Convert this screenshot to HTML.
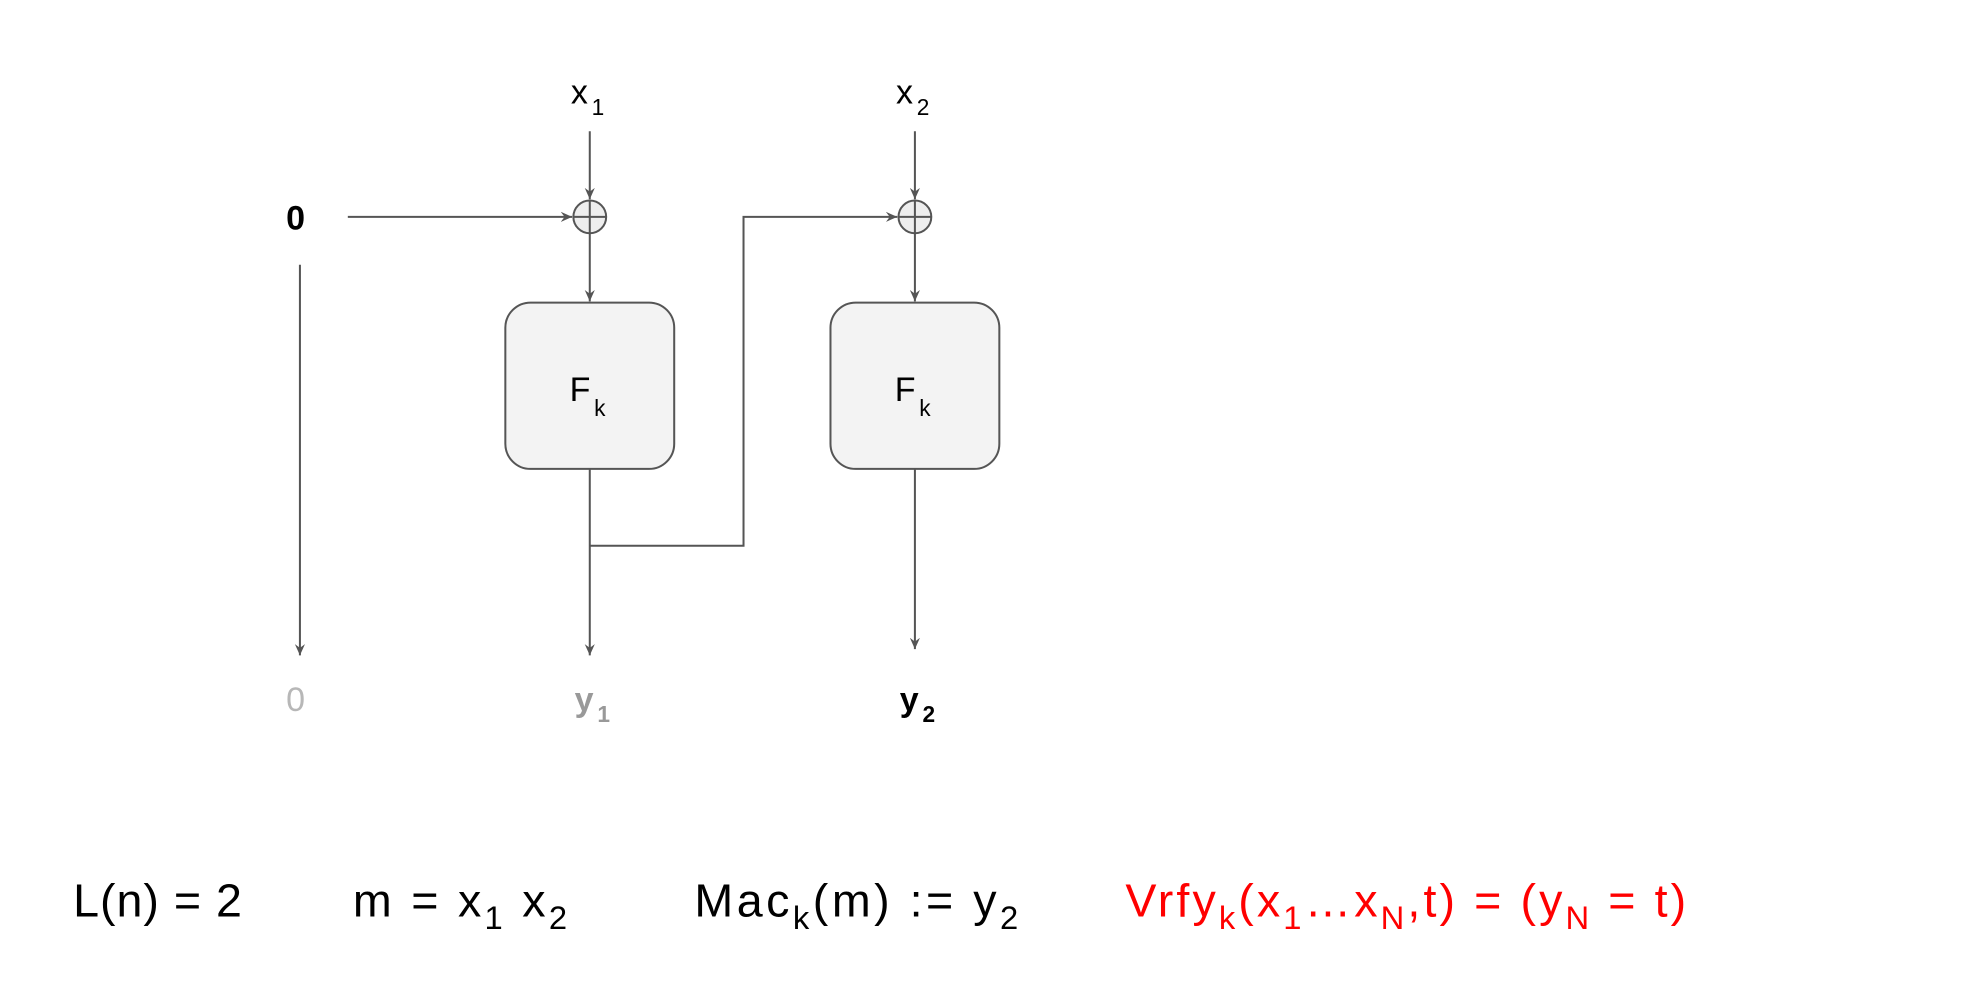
<!DOCTYPE html>
<html><head><meta charset="utf-8"><style>
html,body{margin:0;padding:0;background:#fff;}
svg{display:block;font-family:"Liberation Sans",Arial,sans-serif;}
</style></head><body>
<svg width="1976" height="987" viewBox="0 0 1568 783">
<defs>
<marker id="ah" markerWidth="10" markerHeight="10" refX="9" refY="5" orient="auto" markerUnits="userSpaceOnUse">
<path d="M0,1 L9,5 L0,9 L3,5 Z" fill="#555"/>
</marker>
</defs>
<g stroke="#555" stroke-width="1.6" fill="none">
<line x1="276" y1="172" x2="454" y2="172" marker-end="url(#ah)"/>
<line x1="468" y1="104" x2="468" y2="158" marker-end="url(#ah)"/>
<line x1="468" y1="185" x2="468" y2="239" marker-end="url(#ah)"/>
<line x1="468" y1="372" x2="468" y2="520" marker-end="url(#ah)"/>
<polyline points="468,433 590,433 590,172 712,172" marker-end="url(#ah)"/>
<line x1="726" y1="104" x2="726" y2="158" marker-end="url(#ah)"/>
<line x1="726" y1="185" x2="726" y2="239" marker-end="url(#ah)"/>
<line x1="726" y1="372" x2="726" y2="515" marker-end="url(#ah)"/>
<line x1="238" y1="210" x2="238" y2="520" marker-end="url(#ah)"/>
</g>
<g stroke="#555" stroke-width="1.6">
<circle cx="468" cy="172" r="13" fill="#eee"/>
<line x1="455" y1="172" x2="481" y2="172"/><line x1="468" y1="159" x2="468" y2="185"/>
</g>
<g stroke="#555" stroke-width="1.6">
<circle cx="726" cy="172" r="13" fill="#eee"/>
<line x1="713" y1="172" x2="739" y2="172"/><line x1="726" y1="159" x2="726" y2="185"/>
</g>
<rect x="401" y="240" width="134" height="132" rx="20" fill="#f3f3f3" stroke="#555" stroke-width="1.6"/>
<rect x="659" y="240" width="134" height="132" rx="20" fill="#f3f3f3" stroke="#555" stroke-width="1.6"/>
<text x="452" y="318" font-size="27">F<tspan font-size="18" dx="3" dy="12">k</tspan></text>
<text x="710" y="318" font-size="27">F<tspan font-size="18" dx="3" dy="12">k</tspan></text>
<text x="453" y="82" font-size="27">x<tspan font-size="18" dx="3" dy="9">1</tspan></text>
<text x="711" y="82" font-size="27">x<tspan font-size="18" dx="3" dy="9">2</tspan></text>
<text x="227" y="182" font-size="27" font-weight="bold">0</text>
<text x="227" y="564" font-size="27" fill="#b7b7b7">0</text>
<text x="456" y="564" font-size="27" font-weight="bold" fill="#999">y<tspan font-size="18" dx="3" dy="9">1</tspan></text>
<text x="714" y="564" font-size="27" font-weight="bold">y<tspan font-size="18" dx="3" dy="9">2</tspan></text>
<g font-size="37">
<text x="58" y="727" textLength="134" lengthAdjust="spacing">L(n) = 2</text>
<text x="280" y="727" textLength="170" lengthAdjust="spacing">m = x<tspan font-size="26" dy="10">1</tspan><tspan dy="-10"> x</tspan><tspan font-size="26" dy="10">2</tspan></text>
<text x="551" y="727" textLength="257" lengthAdjust="spacing">Mac<tspan font-size="26" dy="10">k</tspan><tspan dy="-10">(m) := y</tspan><tspan font-size="26" dy="10">2</tspan></text>
<text x="893" y="727" fill="#ff0000" textLength="445" lengthAdjust="spacing">Vrfy<tspan font-size="26" dy="10">k</tspan><tspan dy="-10">(x</tspan><tspan font-size="26" dy="10">1</tspan><tspan dy="-10">…x</tspan><tspan font-size="26" dy="10">N</tspan><tspan dy="-10">,t) = (y</tspan><tspan font-size="26" dy="10">N</tspan><tspan dy="-10"> = t)</tspan></text>
</g>
</svg>
</body></html>
